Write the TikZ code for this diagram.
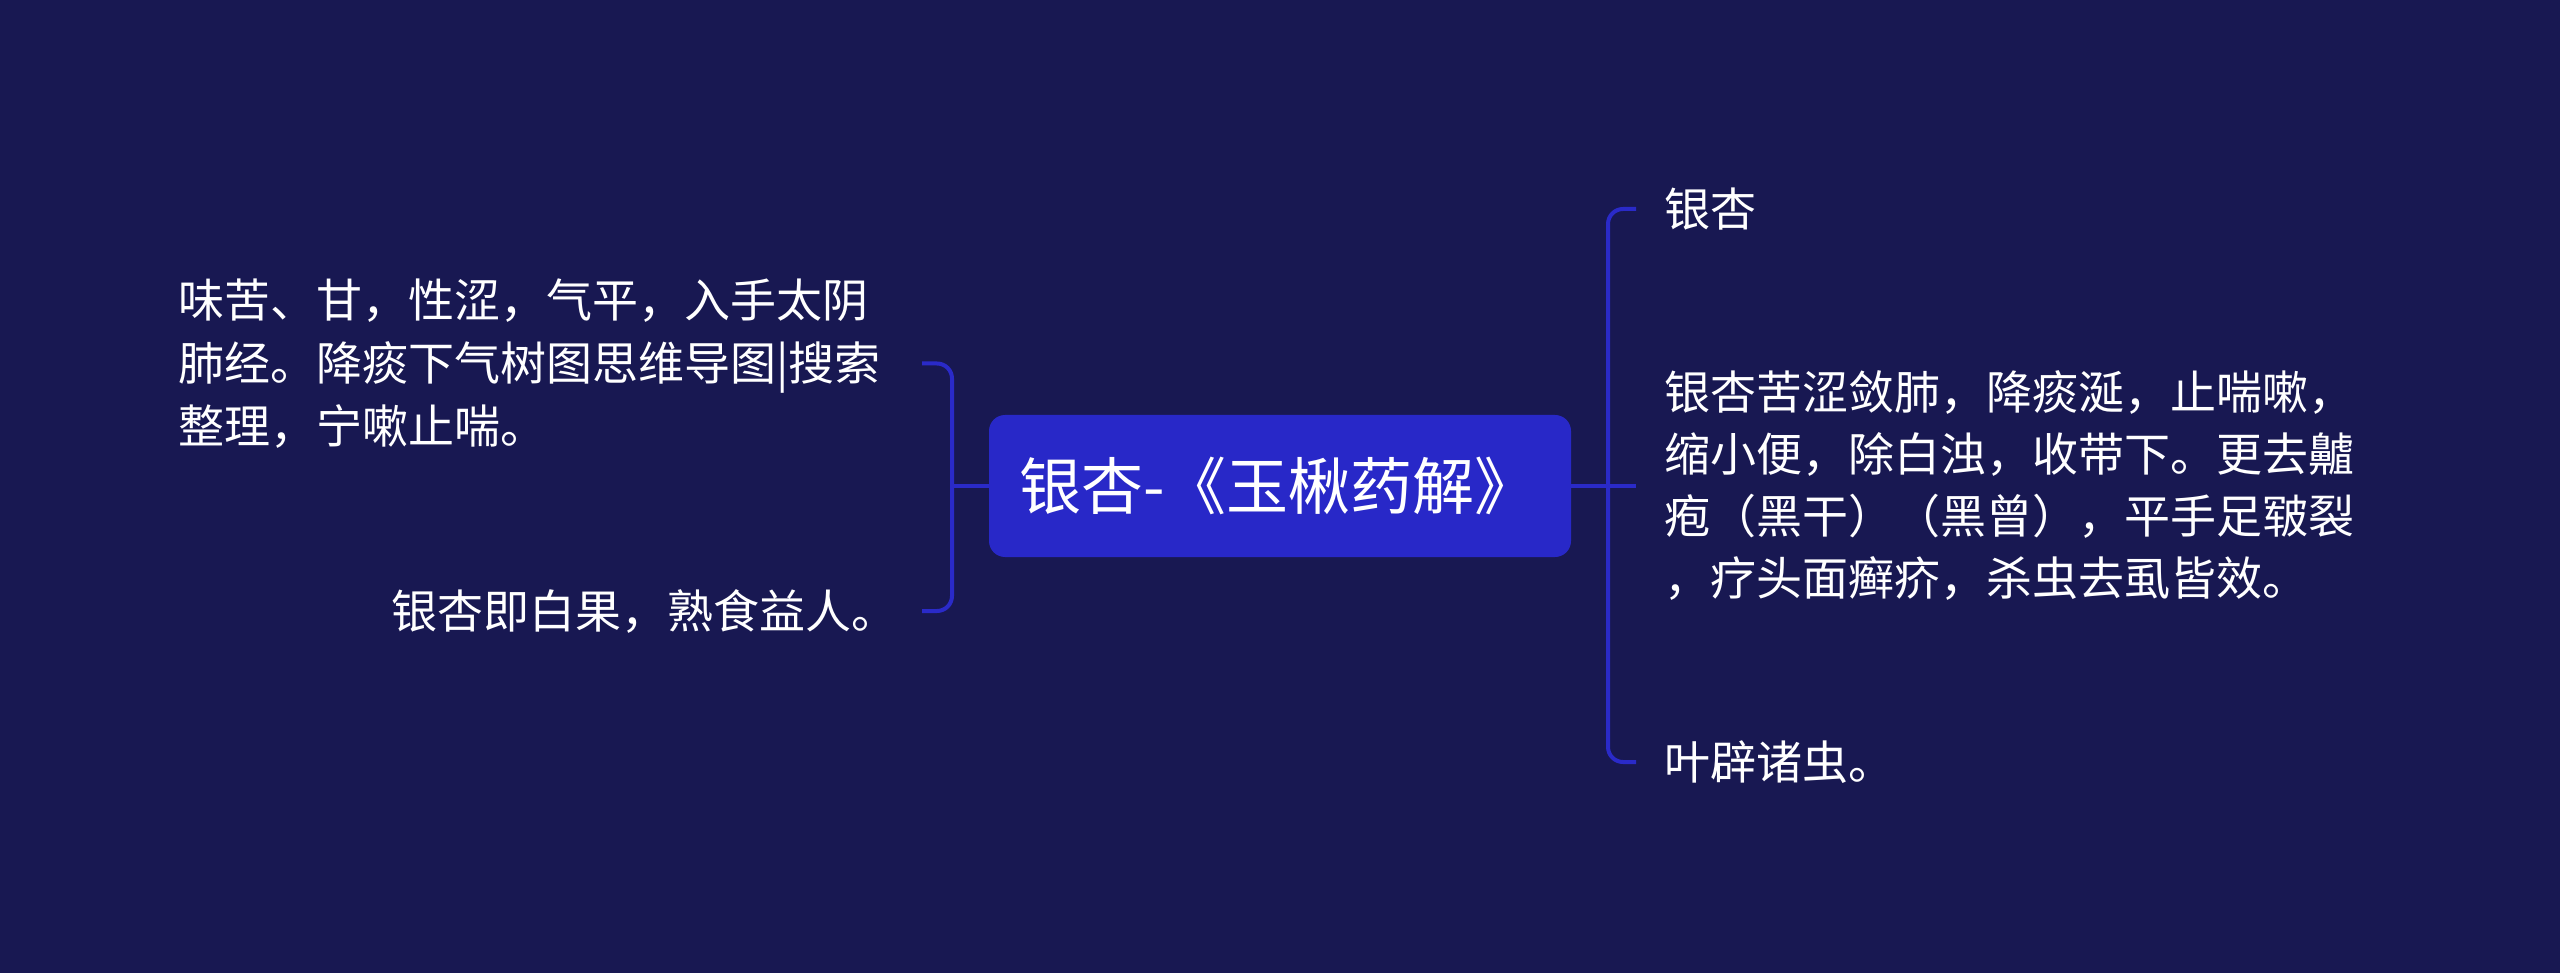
\documentclass[tikz,border=0pt]{standalone}
\usepackage{fontspec}
\setmainfont{Noto Sans CJK SC}
\definecolor{bg}{HTML}{181852}
\definecolor{boxblue}{HTML}{2828C8}
\definecolor{linkblue}{HTML}{2A2AC8}
\begin{document}
\begin{tikzpicture}[x=1pt,y=1pt,
  leaf/.style={text=white, font=\fontsize{46}{63}\selectfont, inner sep=0pt, align=left},
  rootbox/.style={fill=boxblue, rounded corners=16pt, text=white, font=\fontsize{62}{68}\selectfont,
    minimum width=582pt, minimum height=142pt, inner xsep=30pt, inner ysep=0pt, text width=522pt, align=left},
  conn/.style={draw=linkblue, line width=4pt, rounded corners=15pt}]
\fill[bg] (0,0) rectangle (2560,-973);
\useasboundingbox (0,0) rectangle (2560,-973);

\node[rootbox] (root) at (1280,-486) {银杏-《玉楸药解》};

\node[leaf, anchor=west] (l1) at (178,-363.5) {味苦、甘，性涩，气平，入手太阴\\肺经。降痰下气树图思维导图|搜索\\整理，宁嗽止喘。};
\node[leaf, anchor=east] (l2) at (898,-611) {银杏即白果，熟食益人。};

\node[leaf, anchor=west] (r1) at (1664,-209) {银杏};
\node[leaf, anchor=west, font=\fontsize{46}{62}\selectfont] (r2) at (1664,-486) {银杏苦涩敛肺，降痰涎，止喘嗽，\\缩小便，除白浊，收带下。更去齇\\疱（黑干）（黑曾），平手足皲裂\\，疗头面癣疥，杀虫去虱皆效。};
\node[leaf, anchor=west] (r3) at (1664,-762) {叶辟诸虫。};

\coordinate (lj) at (952,-486);
\coordinate (l1h) at (922,-363.5);
\coordinate (l2h) at (922,-611);
\draw[conn] (root.west) -- (lj);
\draw[conn] (l1h) -| (lj) |- (l2h);

\coordinate (rj) at (1608,-486);
\coordinate (r1h) at (1636,-209);
\coordinate (r2h) at (1636,-486);
\coordinate (r3h) at (1636,-762);
\draw[conn] (root.east) -- (r2h);
\draw[conn] (r1h) -| (rj) |- (r3h);
\end{tikzpicture}
\end{document}
